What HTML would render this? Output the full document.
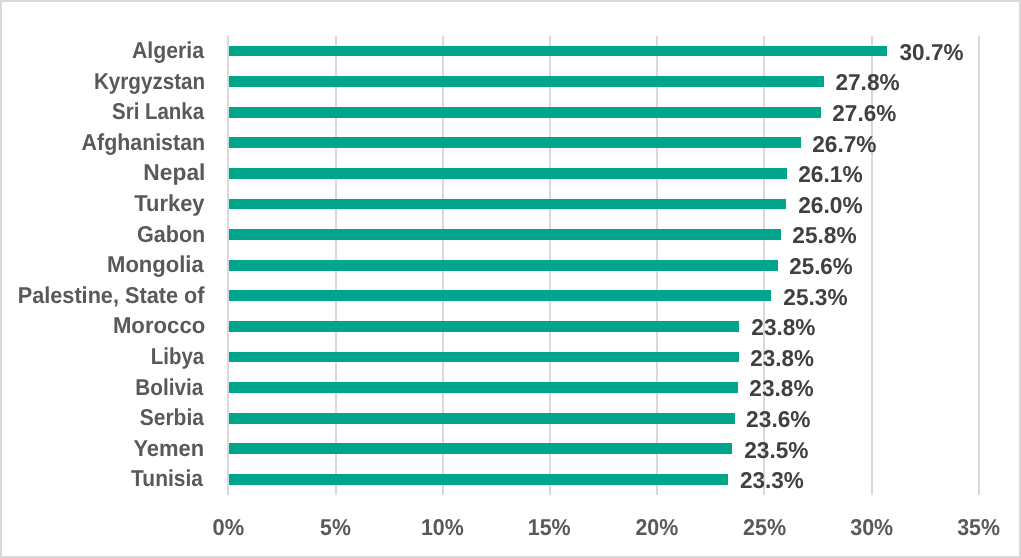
<!DOCTYPE html>
<html><head><meta charset="utf-8"><title>Chart</title>
<style>
html,body{margin:0;padding:0;background:#fff;}
body{width:1021px;height:558px;overflow:hidden;}
svg{display:block;}
text{font-family:"Liberation Sans",sans-serif;font-weight:bold;text-rendering:geometricPrecision;}
g.t{opacity:0.999;filter:grayscale(1);}
</style></head><body>
<svg width="1021" height="558" viewBox="0 0 1021 558">
<rect x="0" y="0" width="1021" height="558" fill="#ffffff"/>
<rect x="1" y="1" width="1019" height="556" fill="none" stroke="#D9D9D9" stroke-width="2" shape-rendering="crispEdges"/>

<g fill="#D9D9D9" shape-rendering="crispEdges">
<rect x="227" y="36" width="2" height="459"/>
<rect x="335" y="36" width="2" height="459"/>
<rect x="442" y="36" width="2" height="459"/>
<rect x="549" y="36" width="2" height="459"/>
<rect x="656" y="36" width="2" height="459"/>
<rect x="763" y="36" width="2" height="459"/>
<rect x="871" y="36" width="2" height="459"/>
<rect x="978" y="36" width="2" height="459"/>
</g>
<g fill="#00A68C" shape-rendering="crispEdges">
<rect x="229" y="46" width="658" height="10"/>
<rect x="229" y="76" width="595" height="11"/>
<rect x="229" y="107" width="592" height="11"/>
<rect x="229" y="137" width="572" height="11"/>
<rect x="229" y="168" width="558" height="11"/>
<rect x="229" y="199" width="557" height="10"/>
<rect x="229" y="229" width="552" height="11"/>
<rect x="229" y="260" width="549" height="11"/>
<rect x="229" y="290" width="542" height="11"/>
<rect x="229" y="321" width="510" height="11"/>
<rect x="229" y="352" width="510" height="10"/>
<rect x="229" y="382" width="509" height="11"/>
<rect x="229" y="413" width="506" height="11"/>
<rect x="229" y="443" width="503" height="11"/>
<rect x="229" y="474" width="499" height="11"/>
</g>
<g class="t" fill="#595959" font-size="22px">
<text transform="translate(204.05,58.00) scale(0.9667,1.0450)" text-anchor="end">Algeria</text>
<text transform="translate(205.11,88.60) scale(0.9376,1.0450)" text-anchor="end">Kyrgyzstan</text>
<text transform="translate(204.10,119.20) scale(0.9292,1.0450)" text-anchor="end">Sri Lanka</text>
<text transform="translate(205.08,149.80) scale(0.9715,1.0450)" text-anchor="end">Afghanistan</text>
<text transform="translate(205.38,180.40) scale(1.0350,1.0450)" text-anchor="end">Nepal</text>
<text transform="translate(204.48,211.00) scale(0.9948,1.0450)" text-anchor="end">Turkey</text>
<text transform="translate(205.30,241.60) scale(0.9802,1.0450)" text-anchor="end">Gabon</text>
<text transform="translate(203.68,272.20) scale(1.0007,1.0450)" text-anchor="end">Mongolia</text>
<text transform="translate(204.47,302.80) scale(0.9853,1.0450)" text-anchor="end">Palestine, State of</text>
<text transform="translate(205.25,333.40) scale(1.0071,1.0450)" text-anchor="end">Morocco</text>
<text transform="translate(204.15,364.00) scale(0.9282,1.0450)" text-anchor="end">Libya</text>
<text transform="translate(203.25,394.60) scale(0.9421,1.0450)" text-anchor="end">Bolivia</text>
<text transform="translate(203.88,425.20) scale(0.9533,1.0450)" text-anchor="end">Serbia</text>
<text transform="translate(204.14,455.80) scale(0.9974,1.0450)" text-anchor="end">Yemen</text>
<text transform="translate(202.86,486.40) scale(0.9518,1.0450)" text-anchor="end">Tunisia</text>
</g>
<g class="t" fill="#404040" font-size="22px">
<text transform="translate(899.56,59.80) scale(1.0245,1.0450)">30.7%</text>
<text transform="translate(835.38,90.40) scale(1.0300,1.0450)">27.8%</text>
<text transform="translate(832.32,121.00) scale(1.0256,1.0450)">27.6%</text>
<text transform="translate(812.13,151.60) scale(1.0331,1.0450)">26.7%</text>
<text transform="translate(798.18,182.20) scale(1.0338,1.0450)">26.1%</text>
<text transform="translate(798.18,212.80) scale(1.0338,1.0450)">26.0%</text>
<text transform="translate(792.30,243.40) scale(1.0318,1.0450)">25.8%</text>
<text transform="translate(789.20,274.00) scale(1.0192,1.0450)">25.6%</text>
<text transform="translate(783.32,304.60) scale(1.0317,1.0450)">25.3%</text>
<text transform="translate(751.32,335.20) scale(1.0284,1.0450)">23.8%</text>
<text transform="translate(750.36,365.80) scale(1.0194,1.0450)">23.8%</text>
<text transform="translate(749.30,396.40) scale(1.0307,1.0450)">23.8%</text>
<text transform="translate(746.12,427.00) scale(1.0334,1.0450)">23.6%</text>
<text transform="translate(744.13,457.60) scale(1.0331,1.0450)">23.5%</text>
<text transform="translate(739.89,488.20) scale(1.0236,1.0450)">23.3%</text>
</g>
<g class="t" fill="#595959" font-size="22px">
<text transform="translate(228.42,534.8) scale(0.9942,1.0450)" text-anchor="middle">0%</text>
<text transform="translate(335.45,534.8) scale(0.9684,1.0450)" text-anchor="middle">5%</text>
<text transform="translate(442.31,534.8) scale(0.9722,1.0450)" text-anchor="middle">10%</text>
<text transform="translate(549.17,534.8) scale(0.9743,1.0450)" text-anchor="middle">15%</text>
<text transform="translate(656.81,534.8) scale(0.9731,1.0450)" text-anchor="middle">20%</text>
<text transform="translate(764.56,534.8) scale(0.9799,1.0450)" text-anchor="middle">25%</text>
<text transform="translate(871.69,534.8) scale(0.9742,1.0450)" text-anchor="middle">30%</text>
<text transform="translate(978.61,534.8) scale(0.9722,1.0450)" text-anchor="middle">35%</text>
</g>
</svg></body></html>
